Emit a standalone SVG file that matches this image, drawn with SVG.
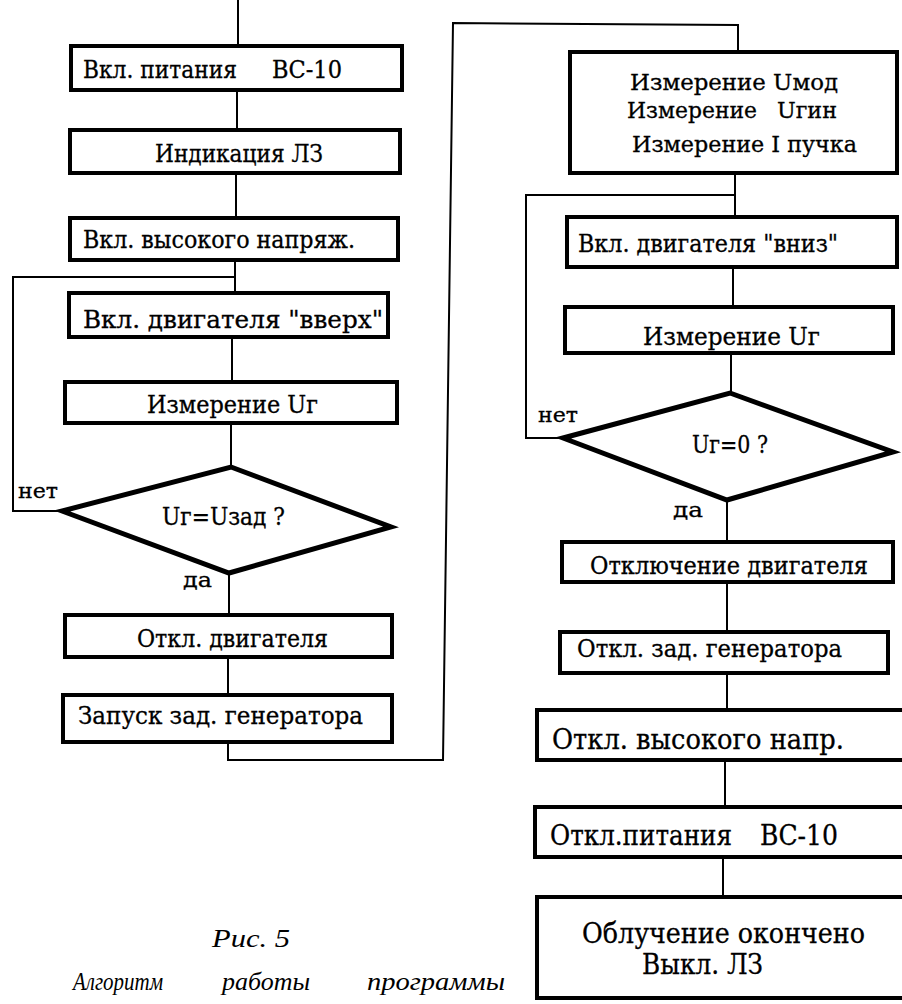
<svg xmlns="http://www.w3.org/2000/svg" width="902" height="1004" viewBox="0 0 902 1004">
<style>
  .box { fill: #ffffff; stroke: #000000; stroke-width: 4; }
  .dia { fill: #ffffff; stroke: #000000; stroke-width: 5; stroke-linejoin: miter; }
  .ln { fill: none; stroke: #000000; stroke-width: 2; }
  .t { font-family: "DejaVu Serif", "Liberation Serif", serif; font-size: 24px; fill: #000000; stroke: #000000; stroke-width: 0.3; }
  .tl { font-family: "DejaVu Serif", "Liberation Serif", serif; font-size: 27px; fill: #000000; stroke: #000000; stroke-width: 0.3; }
  .ts { font-family: "DejaVu Serif", "Liberation Serif", serif; font-size: 22px; fill: #000000; stroke: #000000; stroke-width: 0.3; }
  .lbl { font-family: "DejaVu Serif", "Liberation Serif", serif; font-size: 21px; fill: #000000; stroke: #000000; stroke-width: 0.3; }
  .cap { font-family: "Liberation Serif", "DejaVu Serif", serif; font-style: italic; font-size: 25px; fill: #000000; }
</style>
<rect width="902" height="1004" fill="#ffffff"/>

<g id="connectors">
  <polyline class="ln" points="238,0 238,45"/>
  <polyline class="ln" points="237,90 237,130"/>
  <polyline class="ln" points="236,173 236,218"/>
  <polyline class="ln" points="235,260 235,293"/>
  <polyline class="ln" points="235,277 13,277 13,511 62,511"/>
  <polyline class="ln" points="232,337 232,382"/>
  <polyline class="ln" points="231,423 231,467"/>
  <polyline class="ln" points="229,573 229,615"/>
  <polyline class="ln" points="228,657 228,695"/>
  <polyline class="ln" points="228,742 228,760 443,760 453,23 738,25 738,52"/>
  <polyline class="ln" points="735,173 735,217"/>
  <polyline class="ln" points="735,195 526,195 526,438 563,438"/>
  <polyline class="ln" points="733,267 733,307"/>
  <polyline class="ln" points="731,353 731,394"/>
  <polyline class="ln" points="727,500 727,542"/>
  <polyline class="ln" points="727,582 727,632"/>
  <polyline class="ln" points="727,673 727,710"/>
  <polyline class="ln" points="725,760 725,807"/>
  <polyline class="ln" points="723,857 723,897"/>
</g>

<g id="n1">
  <rect class="box" x="71" y="46" width="331" height="44"/>
  <text class="t" y="78"><tspan x="83" textLength="154" lengthAdjust="spacingAndGlyphs">Вкл. питания</tspan><tspan x="272" textLength="70" lengthAdjust="spacingAndGlyphs">ВС-10</tspan></text>
</g>
<g id="n2">
  <rect class="box" x="70" y="130" width="330" height="43"/>
  <text class="t" x="155" y="162" textLength="168" lengthAdjust="spacingAndGlyphs">Индикация ЛЗ</text>
</g>
<g id="n3">
  <rect class="box" x="70" y="218" width="328" height="42"/>
  <text class="t" x="83" y="248" textLength="272" lengthAdjust="spacingAndGlyphs">Вкл. высокого напряж.</text>
</g>
<g id="n4">
  <rect class="box" x="69" y="293" width="319" height="44"/>
  <text class="t" x="83" y="328" textLength="300" lengthAdjust="spacingAndGlyphs">Вкл. двигателя "вверх"</text>
</g>
<g id="n5">
  <rect class="box" x="65" y="382" width="332" height="41"/>
  <text class="t" x="147" y="413" textLength="171" lengthAdjust="spacingAndGlyphs">Измерение Uг</text>
</g>
<g id="d1">
  <polygon class="dia" points="231,467 391,527 229,573 62,511"/>
  <text class="t" x="162" y="525" textLength="123" lengthAdjust="spacingAndGlyphs">Uг=Uзад ?</text>
  <text class="lbl" x="18" y="498" textLength="40" lengthAdjust="spacingAndGlyphs">нет</text>
  <text class="lbl" x="183" y="587" textLength="29" lengthAdjust="spacingAndGlyphs">да</text>
</g>
<g id="n6">
  <rect class="box" x="65" y="615" width="327" height="42"/>
  <text class="t" x="137" y="647" textLength="191" lengthAdjust="spacingAndGlyphs">Откл. двигателя</text>
</g>
<g id="n7">
  <rect class="box" x="63" y="695" width="329" height="47"/>
  <text class="t" x="78" y="724" textLength="285" lengthAdjust="spacingAndGlyphs">Запуск зад. генератора</text>
</g>

<g id="n8">
  <rect class="box" x="570" y="52" width="327" height="121"/>
  <text class="ts" x="630" y="90" textLength="208" lengthAdjust="spacingAndGlyphs">Измерение Uмод</text>
  <text class="ts" y="118"><tspan x="627" textLength="130" lengthAdjust="spacingAndGlyphs">Измерение</tspan><tspan x="777" textLength="60" lengthAdjust="spacingAndGlyphs">Uгин</tspan></text>
  <text class="ts" x="632" y="152" textLength="225" lengthAdjust="spacingAndGlyphs">Измерение I пучка</text>
</g>
<g id="n9">
  <rect class="box" x="567" y="217" width="330" height="50"/>
  <text class="t" x="578" y="252" textLength="260" lengthAdjust="spacingAndGlyphs">Вкл. двигателя "вниз"</text>
</g>
<g id="n10">
  <rect class="box" x="565" y="307" width="328" height="46"/>
  <text class="t" x="643" y="345" textLength="177" lengthAdjust="spacingAndGlyphs">Измерение Uг</text>
</g>
<g id="d2">
  <polygon class="dia" points="730,393 893,452 727,500 563,438"/>
  <text class="t" x="692" y="453" textLength="76" lengthAdjust="spacingAndGlyphs">Uг=0 ?</text>
  <text class="lbl" x="538" y="422" textLength="40" lengthAdjust="spacingAndGlyphs">нет</text>
  <text class="lbl" x="673" y="517" textLength="30" lengthAdjust="spacingAndGlyphs">да</text>
</g>
<g id="n11">
  <rect class="box" x="562" y="542" width="331" height="40"/>
  <text class="t" x="590" y="574" textLength="278" lengthAdjust="spacingAndGlyphs">Отключение двигателя</text>
</g>
<g id="n12">
  <rect class="box" x="560" y="632" width="328" height="41"/>
  <text class="t" x="577" y="657" textLength="265" lengthAdjust="spacingAndGlyphs">Откл. зад. генератора</text>
</g>
<g id="n13">
  <rect class="box" x="537" y="710" width="380" height="50"/>
  <text class="tl" x="552" y="749" textLength="292" lengthAdjust="spacingAndGlyphs">Откл. высокого напр.</text>
</g>
<g id="n14">
  <rect class="box" x="535" y="807" width="382" height="50"/>
  <text class="tl" y="845"><tspan x="550" textLength="182" lengthAdjust="spacingAndGlyphs">Откл.питания</tspan><tspan x="760" textLength="78" lengthAdjust="spacingAndGlyphs">ВС-10</tspan></text>
</g>
<g id="n15">
  <rect class="box" x="537" y="897" width="380" height="101"/>
  <text class="tl" x="582" y="943" textLength="283" lengthAdjust="spacingAndGlyphs">Облучение окончено</text>
  <text class="tl" x="642" y="974" textLength="121" lengthAdjust="spacingAndGlyphs">Выкл. ЛЗ</text>
</g>

<g id="caption">
  <text class="cap" x="212" y="947" textLength="78" lengthAdjust="spacingAndGlyphs">Рис. 5</text>
  <text class="cap" x="73" y="990" textLength="90" lengthAdjust="spacingAndGlyphs">Алгоритм</text>
  <text class="cap" x="222" y="990" textLength="88" lengthAdjust="spacingAndGlyphs">работы</text>
  <text class="cap" x="367" y="990" textLength="138" lengthAdjust="spacingAndGlyphs">программы</text>
</g>
</svg>
